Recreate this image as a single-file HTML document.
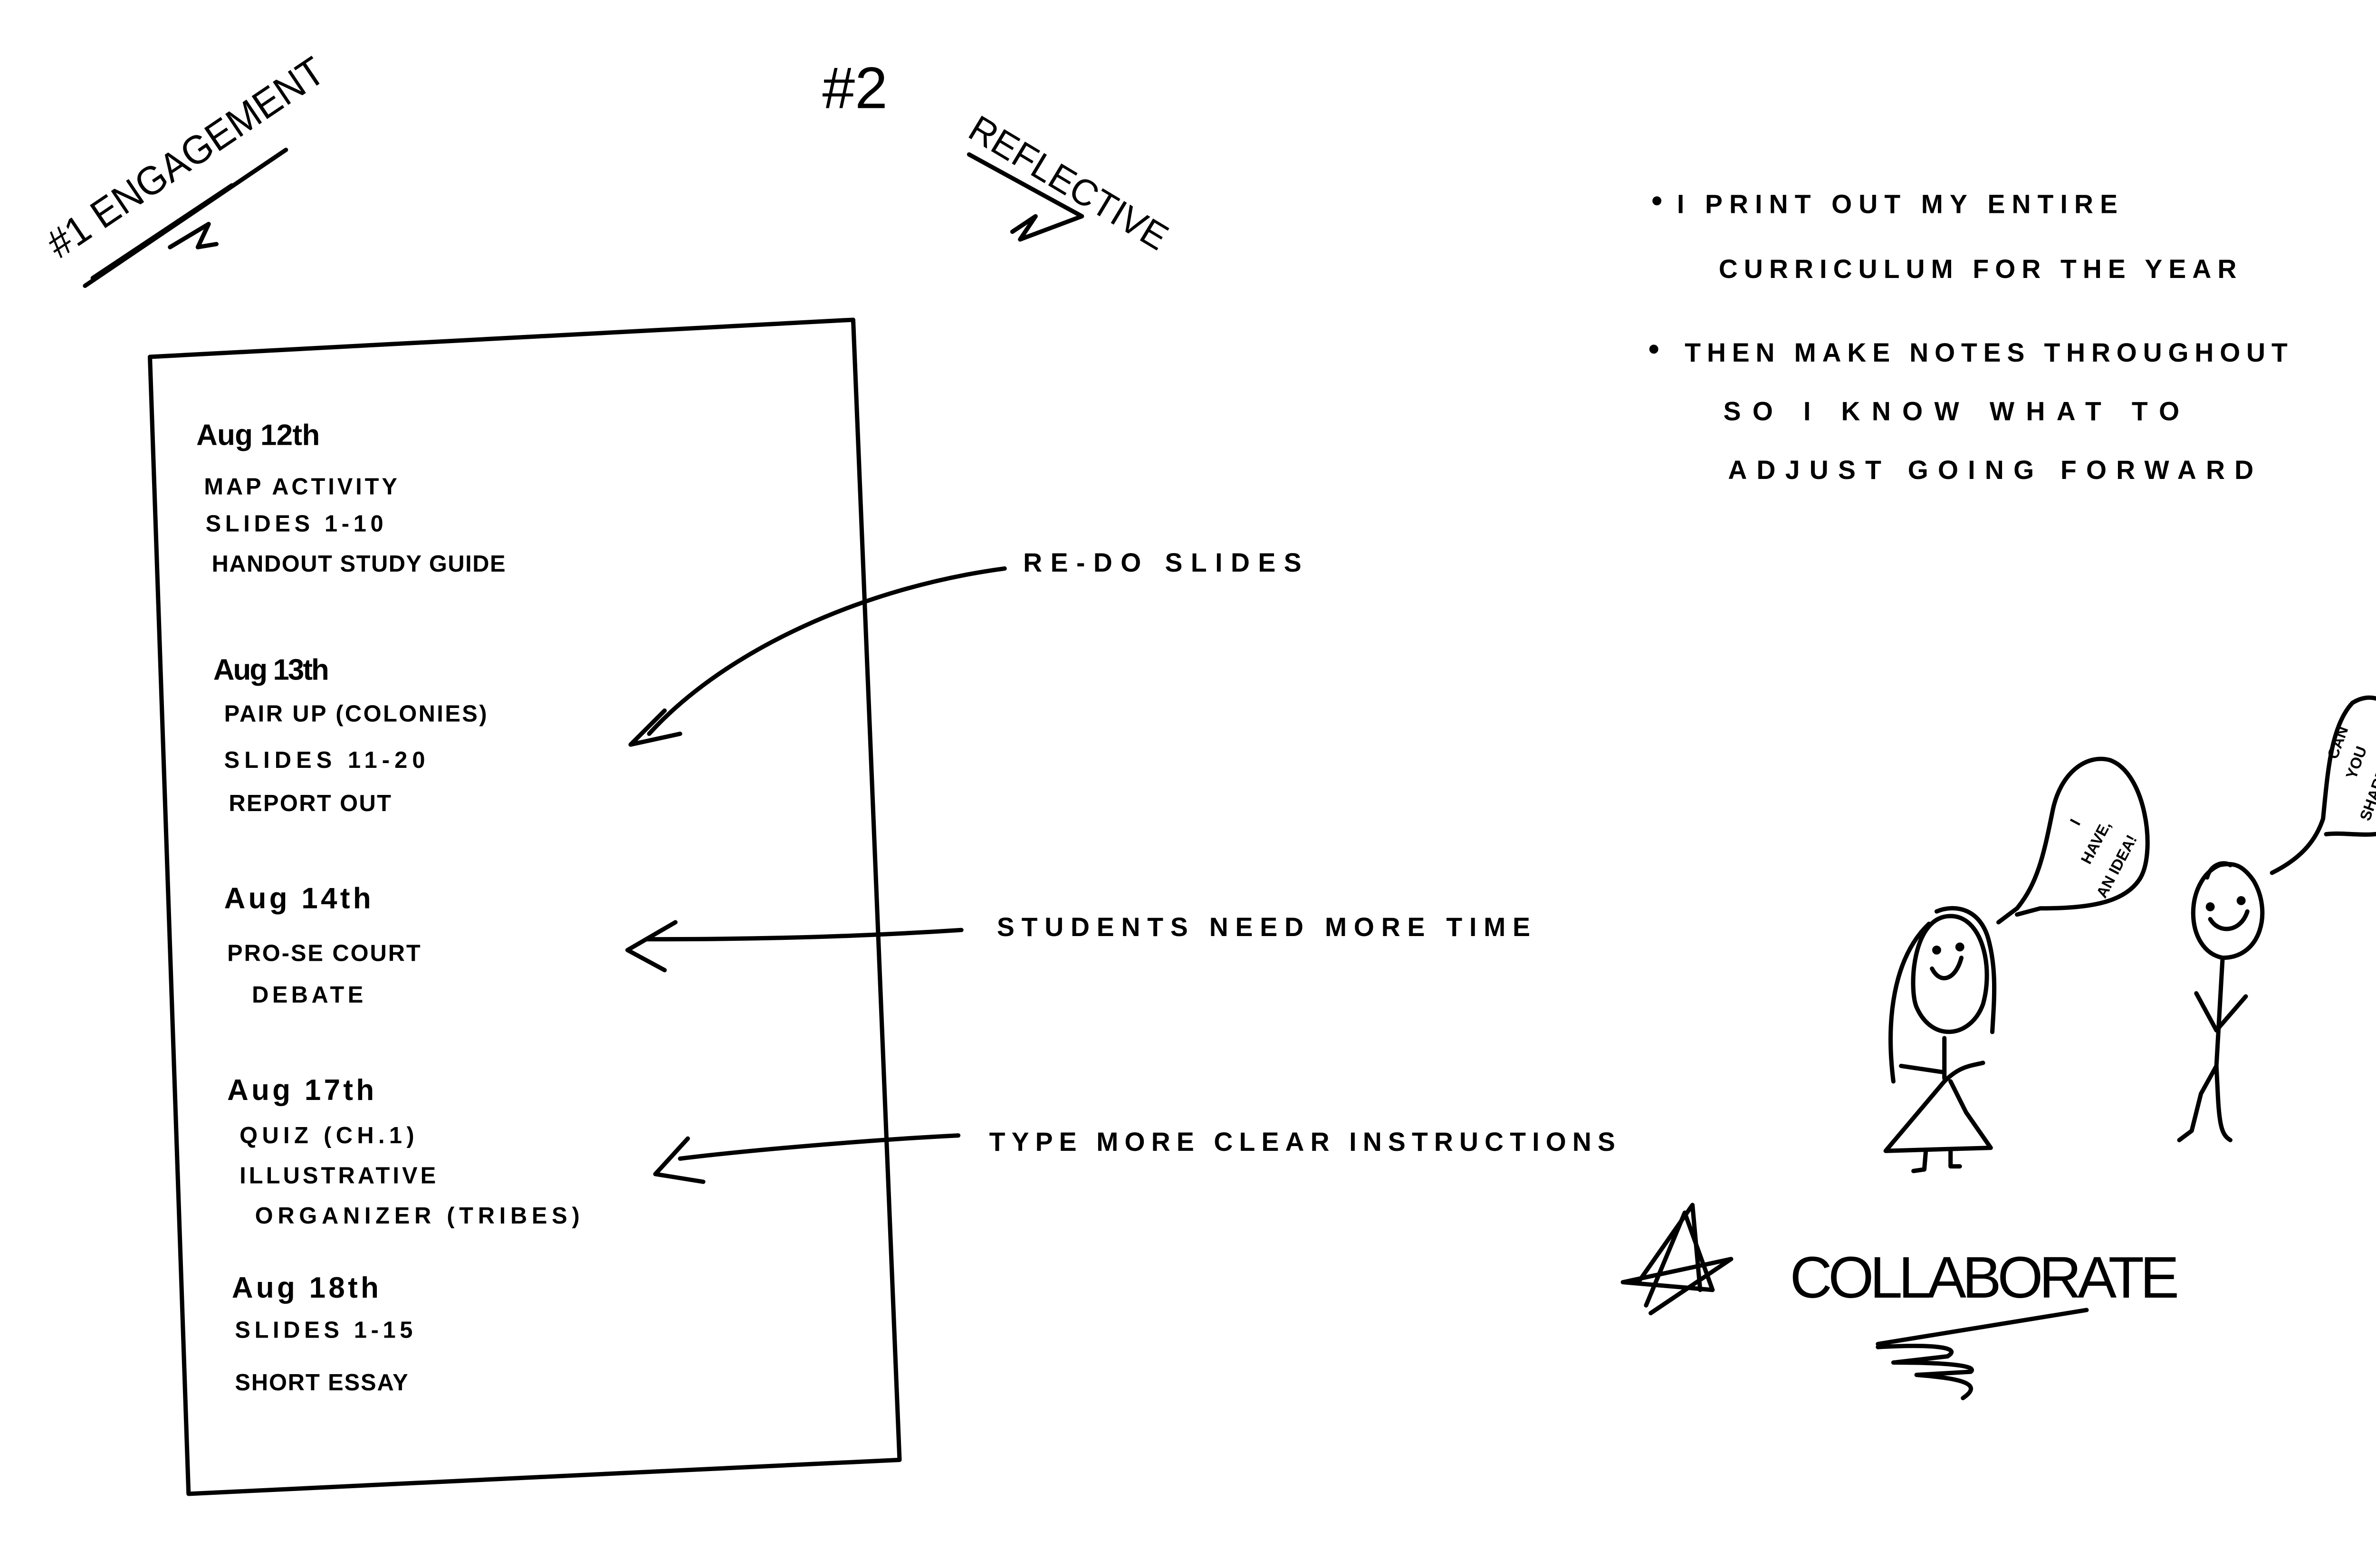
<!DOCTYPE html>
<html><head><meta charset="utf-8"><style>
html,body{margin:0;padding:0;background:#fff;}
svg{display:block;}
text{font-family:"Liberation Sans",sans-serif;fill:#000;font-weight:bold;}
</style></head><body>
<svg width="5100" height="3300" viewBox="0 0 1568 1015" preserveAspectRatio="none" xmlns="http://www.w3.org/2000/svg">
<rect width="1568" height="1015" fill="#fff"/>
<g fill="none" stroke="#000" stroke-width="2.8" stroke-linecap="round" stroke-linejoin="round">
<path d="M55 185 L185 97 M60 180 L150 120 M110 160 L135 145 L128 160 L140 158"/>
<path d="M627 100 L700 140 M655 150 L670 140 L660 155 L700 140"/>
<path d="M97 231 L552 207 L582 945 L122 967 Z"/>
<path d="M650 368 C560 380 470 420 420 475"/>
<path d="M430 460 L408 482 L440 475"/>
<path d="M622 602 C560 606 500 608 418 608"/>
<path d="M437 597 L406 615 L430 628"/>
<path d="M620 735 C560 738 480 745 440 750"/>
<path d="M445 737 L424 760 L455 765"/>
<path d="M1262 593 C1237 593 1235 640 1240 652 C1250 675 1275 672 1283 650 C1290 625 1282 593 1262 593 Z"/>
<path d="M1253 590 C1265 585 1282 588 1287 610 C1292 630 1290 650 1289 668"/>
<path d="M1248 598 C1225 620 1220 660 1225 700"/>
<circle cx="1253" cy="615" r="1.5"/><circle cx="1268" cy="613" r="1.5"/>
<path d="M1250 627 C1255 637 1265 635 1269 620"/>
<path d="M1258 672 L1258 698 M1230 690 L1257 694 M1258 700 C1268 690 1275 690 1283 688"/>
<path d="M1258 700 L1220 745 L1288 743 L1272 720 L1262 700"/>
<path d="M1246 745 L1245 757 L1238 758 M1262 745 L1262 755 L1268 755"/>
<path d="M1293 597 L1305 588 C1318 572 1322 555 1328 525 C1333 500 1350 488 1365 492 C1388 500 1395 550 1385 568 C1375 585 1350 588 1320 588 L1305 592"/>
<path d="M1436 560 C1413 570 1413 615 1438 620 C1463 620 1470 590 1458 570 C1451 560 1445 558 1436 560 Z M1428 568 C1430 560 1438 557 1443 560"/>
<circle cx="1430" cy="587" r="1.5"/><circle cx="1450" cy="583" r="1.5"/>
<path d="M1430 595 C1436 605 1450 603 1454 590"/>
<path d="M1438 620 L1434 690 L1435 710 C1436 730 1438 735 1443 738 M1434 690 L1424 708 L1418 732 L1410 738"/>
<path d="M1421 643 L1434 667 L1453 645"/>
<path d="M1470 565 C1488 556 1498 545 1503 530 C1506 500 1508 470 1522 455 C1538 445 1553 458 1557 480 C1560 500 1560 520 1552 533 C1542 545 1520 538 1505 540"/>
<path d="M1065 845 L1090 785 L1108 835 L1050 830 L1120 815 L1068 850"/>
<path d="M1060 830 L1095 780 L1100 835"/>
<path d="M1215 870 L1350 848 M1215 872 C1250 870 1270 872 1260 878 L1225 882 C1260 882 1280 884 1275 888 L1240 890 C1265 892 1285 895 1270 905"/>
<circle cx="1072" cy="130" r="1.5"/><circle cx="1070" cy="226" r="1.5"/>
</g>
<text font-size="26" style="font-weight:normal" transform="translate(38,168) rotate(-34)" textLength="210" lengthAdjust="spacingAndGlyphs">#1 ENGAGEMENT</text>
<text x="532" y="70" font-size="38" style="font-weight:normal">#2</text>
<text font-size="24" style="font-weight:normal" transform="translate(625,88) rotate(31)" textLength="145" lengthAdjust="spacingAndGlyphs">REFLECTIVE</text>
<g font-size="15" lengthAdjust="spacingAndGlyphs">
<text x="127" y="288" font-size="19" textLength="80">Aug 12th</text>
<text x="132" y="320" textLength="125">MAP ACTIVITY</text>
<text x="133" y="344" textLength="115">SLIDES 1-10</text>
<text x="137" y="370" textLength="190">HANDOUT STUDY GUIDE</text>
<text x="138" y="440" font-size="19" textLength="75">Aug 13th</text>
<text x="145" y="467" textLength="170">PAIR UP (COLONIES)</text>
<text x="145" y="497" textLength="130">SLIDES 11-20</text>
<text x="148" y="525" textLength="105">REPORT OUT</text>
<text x="145" y="588" font-size="19" textLength="95">Aug 14th</text>
<text x="147" y="622" textLength="125">PRO-SE COURT</text>
<text x="163" y="649" textLength="72">DEBATE</text>
<text x="147" y="712" font-size="19" textLength="95">Aug 17th</text>
<text x="155" y="740" textLength="113">QUIZ (CH.1)</text>
<text x="155" y="766" textLength="127">ILLUSTRATIVE</text>
<text x="165" y="792" textLength="210">ORGANIZER (TRIBES)</text>
<text x="150" y="840" font-size="19" textLength="95">Aug 18th</text>
<text x="152" y="866" textLength="115">SLIDES 1-15</text>
<text x="152" y="900" textLength="112">SHORT ESSAY</text>
<text x="662" y="370" font-size="17" textLength="180">RE-DO SLIDES</text>
<text x="645" y="606" font-size="17" textLength="345">STUDENTS NEED MORE TIME</text>
<text x="640" y="745" font-size="17" textLength="405">TYPE MORE CLEAR INSTRUCTIONS</text>
<text x="1085" y="138" font-size="17" textLength="285">I PRINT OUT MY ENTIRE</text>
<text x="1112" y="180" font-size="17" textLength="335">CURRICULUM FOR THE YEAR</text>
<text x="1090" y="234" font-size="17" textLength="390">THEN MAKE NOTES THROUGHOUT</text>
<text x="1115" y="272" font-size="17" textLength="295">SO I KNOW WHAT TO</text>
<text x="1118" y="310" font-size="17" textLength="340">ADJUST GOING FORWARD</text>
<text x="1158" y="840" font-size="38" style="font-weight:normal" textLength="252">COLLABORATE</text>
</g>
<g font-size="10">
<text transform="translate(1345,535) rotate(-62)">I</text>
<text transform="translate(1352,560) rotate(-62)">HAVE,</text>
<text transform="translate(1362,582) rotate(-62)">AN IDEA!</text>
<text transform="translate(1512,492) rotate(-70)">CAN</text>
<text transform="translate(1524,505) rotate(-70)">YOU</text>
<text transform="translate(1533,532) rotate(-70)">SHARE?</text>
</g>
</svg>
</body></html>
